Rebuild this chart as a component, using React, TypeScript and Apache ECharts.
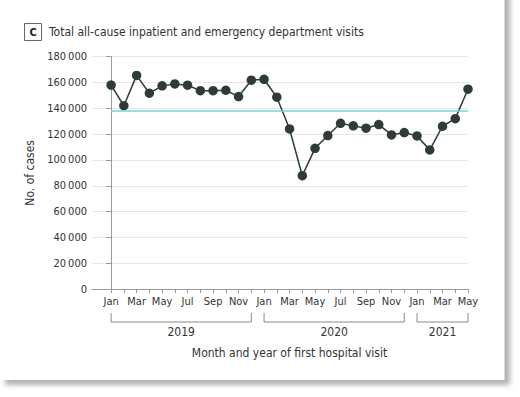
import React, { useEffect, useRef } from "react";
import * as echarts from "echarts";

const monthLabels = ["Jan", "Feb", "Mar", "Apr", "May", "Jun", "Jul", "Aug", "Sep", "Oct", "Nov", "Dec"];
const years = ["2019", "2020", "2021"];
const yearStartIdx = [0, 12, 24];
const yearEndIdx = [11, 23, 28];
const visits = [
  158000, 142000, 165500, 151700, 157400, 158900, 157900, 153700, 153700, 154000, 149100, 161800,
  162500, 148600, 124000, 87800, 109000, 118900, 128400, 126400, 124600, 127400, 119400, 121200,
  118600, 107800, 126100, 132000, 154800,
];
const referenceLevel = 138000;

const FONT = "'Liberation Sans Narrow', 'DejaVu Sans Condensed', 'Noto Sans', sans-serif";

function fmtThousands(v: number): string {
  if (v === 0) return "0";
  const k = Math.floor(v / 1000);
  return k + "\u2009000";
}

export default function App() {
  const ref = useRef<HTMLDivElement>(null);
  useEffect(() => {
    document.body.style.margin = "0";
    const chart = echarts.init(ref.current!, null, { renderer: "svg" });
    const data = visits.map((v, i) => [i, v]);
    const tickIdx = visits.map((_, i) => i);
    const labelIdx = tickIdx.filter((i) => i % 2 === 0);
    chart.setOption({
      animation: false,
      textStyle: { fontFamily: FONT },
      grid: { left: 92, right: 52, top: 56.7, bottom: 108, containLabel: false },
      xAxis: {
        type: "value",
        min: -1.5,
        max: 28,
        axisLine: { show: true, lineStyle: { color: "#9a9a9a", width: 1 } },
        axisTick: { show: true, customValues: tickIdx, length: 4, lineStyle: { color: "#9a9a9a" } },
        axisLabel: {
          customValues: labelIdx,
          margin: 7,
          fontSize: 11,
          color: "#333",
          fontFamily: FONT,
          formatter: (v: number) => monthLabels[Math.round(v) % 12],
        },
        splitLine: { show: false },
      },
      yAxis: {
        type: "value",
        min: 0,
        max: 180000,
        interval: 20000,
        axisLine: { show: true, lineStyle: { color: "#9a9a9a", width: 1 } },
        axisTick: { show: true, length: 5, lineStyle: { color: "#9a9a9a" } },
        axisLabel: {
          margin: 5,
          fontSize: 11,
          color: "#333",
          fontFamily: FONT,
          formatter: (v: number) => fmtThousands(v),
        },
        splitLine: { show: true, lineStyle: { color: "#e6e6e6", width: 1 } },
        name: "No. of cases",
        nameLocation: "middle",
        nameGap: 54,
        nameTextStyle: { fontSize: 12, color: "#333", fontFamily: FONT },
      },
      series: [
        {
          type: "line",
          data,
          symbol: "circle",
          symbolSize: 9.5,
          lineStyle: { color: "#2e3b39", width: 1.5 },
          itemStyle: { color: "#2e3b39" },
          z: 3,
          markLine: {
            silent: true,
            symbol: "none",
            label: { show: false },
            lineStyle: { color: "#7fcfdf", width: 1.5, type: "solid" },
            data: [[{ coord: [0, referenceLevel] }, { coord: [28, referenceLevel] }]],
          },
        },
      ],
    });

    const px = (i: number) => chart.convertToPixel({ xAxisIndex: 0 }, i) as number;
    const elements: any[] = [
      {
        type: "rect",
        shape: { x: 24.5, y: 23.5, width: 17, height: 17 },
        style: { fill: "#fff", stroke: "#666", lineWidth: 1 },
      },
      {
        type: "text",
        x: 33,
        y: 32.5,
        style: { text: "C", fill: "#222", font: `bold 11px ${FONT}`, align: "center", verticalAlign: "middle" },
      },
      {
        type: "text",
        x: 49,
        y: 32,
        style: {
          text: "Total all-cause inpatient and emergency department visits",
          fill: "#333",
          font: `12px ${FONT}`,
          align: "left",
          verticalAlign: "middle",
        },
      },
      {
        type: "text",
        x: 289.5,
        y: 353,
        style: {
          text: "Month and year of first hospital visit",
          fill: "#333",
          font: `12px ${FONT}`,
          align: "center",
          verticalAlign: "middle",
        },
      },
    ];
    years.forEach((y, k) => {
      const x0 = px(yearStartIdx[k]);
      const x1 = px(yearEndIdx[k]);
      elements.push({
        type: "polyline",
        shape: { points: [[x0, 313], [x0, 322], [x1, 322], [x1, 313]] },
        style: { stroke: "#8a8a8a", lineWidth: 1, fill: null },
      });
      elements.push({
        type: "text",
        x: (x0 + x1) / 2,
        y: 332,
        style: { text: y, fill: "#333", font: `12px ${FONT}`, align: "center", verticalAlign: "middle" },
      });
    });
    chart.setOption({ graphic: { elements } });
    return () => chart.dispose();
  }, []);

  return (
    <div style={{ position: "absolute", left: 0, top: 0, width: 520, height: 397, background: "#fff", overflow: "hidden" }}>
      <div
        style={{
          position: "absolute",
          left: 0,
          top: -10,
          width: 504,
          height: 390,
          background: "#fff",
          borderRight: "1px solid #cfe6cc",
          boxShadow: "5px 5px 5px rgba(0,0,0,0.3)",
        }}
      />
      <div ref={ref} style={{ position: "absolute", left: 0, top: 0, width: 520, height: 397 }} />
    </div>
  );
}
